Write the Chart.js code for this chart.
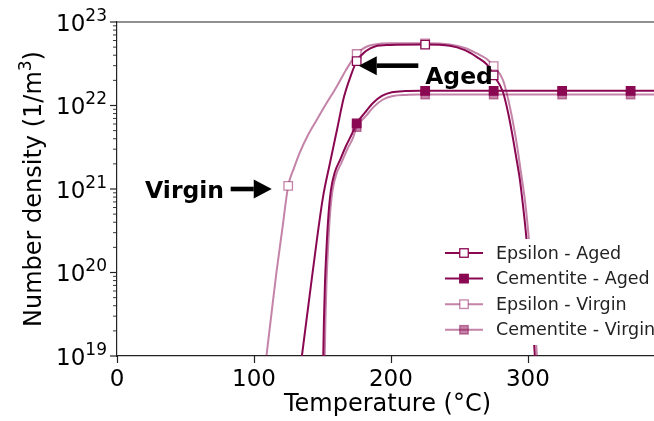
<!DOCTYPE html>
<html>
<head>
<meta charset="utf-8">
<script src="https://cdn.jsdelivr.net/npm/chart.js@4.4.1/dist/chart.umd.min.js"></script>
<style>
  html, body { margin: 0; padding: 0; background: #fff; overflow: hidden; }
  #wrap { width: 680px; height: 421px; }
</style>
</head>
<body>
<div id="wrap"><canvas id="chart"></canvas></div>
<script>
// temperature (°C) and number density (1/m^3) per precipitate / condition
const epsAgedT = [135, 142.3, 150.4, 155.5, 160.6, 165.7, 170.8, 175, 181.8, 188.3, 199.3, 225,
  243, 254, 262.8, 270, 275, 281.8, 285.4, 288.3, 291.2, 294.2, 296.4, 298.5, 301.5, 305.1];
const epsAgedN = [1e19, 8.6e19, 8.0e20, 2.05e21, 5.1e21, 1.26e22, 2.3e22, 3.4e22, 4.5e22, 5.1e22, 5.3e22, 5.37e22,
  5.2e22, 4.6e22, 3.8e22, 3.1e22, 2.3e22, 1.45e22, 8.4e21, 4.8e21, 2.55e21, 1.28e21, 6.4e20, 3.05e20, 8.1e19, 1e19];

const cemAgedT = [150.6, 151.1, 151.8, 152.9, 154.4, 156.2, 159.1, 162.8, 167.2, 171.5, 175, 181, 186.9,
  193.4, 200.7, 210.2, 221.2, 225, 275, 325, 375, 395];
const cemAgedN = [1e19, 2.7e19, 7.1e19, 1.86e20, 4.9e20, 9.7e20, 1.6e21, 2.22e21, 3.27e21, 4.56e21, 6.1e21, 8.2e21, 1.07e22,
  1.3e22, 1.44e22, 1.49e22, 1.5e22, 1.5e22, 1.5e22, 1.5e22, 1.5e22, 1.5e22];

const epsVirginT = [109.1, 112.4, 116.4, 120.8, 125, 129.2, 133.6, 139.4, 145.8, 152.6, 160.4, 167.2, 175, 181, 188.3,
  199.3, 225, 243, 254, 262.8, 270, 275, 281.8, 285.4, 289.1, 292, 294.9, 297.8, 300, 302.9, 306.6];
const epsVirginN = [1e19, 2.85e19, 1.0e20, 3.4e20, 1.09e21, 1.78e21, 2.77e21, 4.4e21, 6.7e21, 1.04e22, 1.68e22, 2.66e22, 4.14e22, 4.95e22, 5.38e22,
  5.56e22, 5.56e22, 5.38e22, 4.89e22, 4.2e22, 3.6e22, 2.97e22, 2.02e22, 1.23e22, 6.3e21, 3.37e21, 1.6e21, 7.4e20, 3.4e20, 9.3e19, 1e19];

const cemVirginT = [151.7, 152.2, 152.9, 154, 155.5, 157.3, 160.2, 163.9, 168.2, 172.3, 175, 181.8, 187.6,
  194.2, 201.5, 210.9, 221.2, 225, 275, 325, 375, 395];
const cemVirginN = [1e19, 2.7e19, 7.1e19, 1.86e20, 4.9e20, 9.5e20, 1.51e21, 2.07e21, 3.0e21, 4.1e21, 5.5e21, 7.5e21, 9.7e21,
  1.18e22, 1.3e22, 1.34e22, 1.35e22, 1.35e22, 1.35e22, 1.35e22, 1.35e22, 1.35e22];

const markerTemps = [125, 175, 225, 275, 325, 375];
const seriesNames = ['Epsilon - Aged', 'Cementite - Aged', 'Epsilon - Virgin', 'Cementite - Virgin'];
const xTicks = [0, 100, 200, 300];
const yTicks = [1e19, 1e20, 1e21, 1e22, 1e23];

const AGED = 'rgb(138, 8, 82)';
const VIRGIN = 'rgba(138, 8, 82, 0.5)';
const FONT = '"DejaVu Sans", sans-serif';

const pts = (ts, ns) => ts.map((t, i) => ({ x: t, y: ns[i] }));

function series(label, ts, ns, color, open) {
  return {
    label,
    data: pts(ts, ns),
    borderColor: color,
    borderWidth: 2,
    cubicInterpolationMode: 'monotone',
    pointStyle: 'rect',
    pointRadius: c => markerTemps.includes(c.raw.x) ? 6 : 0,
    pointHoverRadius: 0,
    pointBorderWidth: 1.3,
    pointBorderColor: color,
    pointBackgroundColor: open ? '#fff' : color
  };
}

const datasets = [
  series(seriesNames[0], epsAgedT, epsAgedN, AGED, true),
  series(seriesNames[1], cemAgedT, cemAgedN, AGED, false),
  series(seriesNames[2], epsVirginT, epsVirginN, VIRGIN, true),
  series(seriesNames[3], cemVirginT, cemVirginN, VIRGIN, false)
];

function arrow(ctx, x1, x2, y) {
  // horizontal arrow from x1 to tip at x2
  const dir = Math.sign(x2 - x1), head = 18, half = 9.5;
  ctx.fillStyle = '#000';
  ctx.fillRect(Math.min(x1, x2 - dir * head), y - 2.3, Math.abs(x2 - dir * head - x1), 4.6);
  ctx.beginPath();
  ctx.moveTo(x2, y);
  ctx.lineTo(x2 - dir * head, y - half);
  ctx.lineTo(x2 - dir * head, y + half);
  ctx.closePath();
  ctx.fill();
}

const decor = {
  id: 'decor',
  afterDatasetsDraw(chart) {
    const { ctx, chartArea: a, scales: { x, y } } = chart;
    ctx.save();
    ctx.strokeStyle = '#222';
    ctx.lineWidth = 1.2;
    // top spine
    ctx.beginPath();
    ctx.moveTo(a.left, a.top);
    ctx.lineTo(a.right, a.top);
    ctx.stroke();
    // x tick marks
    xTicks.forEach(v => {
      const px = Math.round(x.getPixelForValue(v)) + 0.5;
      ctx.beginPath();
      ctx.moveTo(px, a.bottom);
      ctx.lineTo(px, a.bottom + 7);
      ctx.stroke();
    });
    // y ticks, major and minor
    for (let e = 19; e <= 23; e++) {
      const py = y.getPixelForValue(Math.pow(10, e));
      ctx.lineWidth = 1.2;
      ctx.beginPath();
      ctx.moveTo(a.left, py);
      ctx.lineTo(a.left - 7, py);
      ctx.stroke();
      if (e === 23) break;
      ctx.lineWidth = 0.9;
      for (let k = 2; k <= 9; k++) {
        const pm = y.getPixelForValue(k * Math.pow(10, e));
        ctx.beginPath();
        ctx.moveTo(a.left, pm);
        ctx.lineTo(a.left - 4, pm);
        ctx.stroke();
      }
    }
    // y tick labels 10^n
    ctx.fillStyle = '#000';
    ctx.textBaseline = 'alphabetic';
    yTicks.forEach(v => {
      const py = y.getPixelForValue(v);
      const ex = String(Math.round(Math.log10(v)));
      ctx.font = '17px ' + FONT;
      const ew = ctx.measureText(ex).width;
      ctx.font = '23px ' + FONT;
      const bw = ctx.measureText('10').width;
      const right = a.left - 10;
      ctx.textAlign = 'left';
      ctx.fillText('10', right - ew - bw, py + 8.5);
      ctx.font = '17px ' + FONT;
      ctx.fillText(ex, right - ew, py - 1.5);
    });
    // axis titles
    ctx.textAlign = 'center';
    ctx.textBaseline = 'middle';
    ctx.font = '24px ' + FONT;
    ctx.fillText('Temperature (°C)', (a.left + a.right) / 2, 405);
    // y title with a raised exponent
    ctx.save();
    ctx.translate(32, (a.top + a.bottom) / 2);
    ctx.rotate(-Math.PI / 2);
    ctx.textAlign = 'left';
    ctx.textBaseline = 'alphabetic';
    const p1 = 'Number density (1/m', p2 = '3', p3 = ')';
    ctx.font = '24px ' + FONT;
    const w1 = ctx.measureText(p1).width, w3 = ctx.measureText(p3).width;
    ctx.font = '17px ' + FONT;
    const w2 = ctx.measureText(p2).width;
    let cx = -(w1 + w2 + w3) / 2;
    ctx.font = '24px ' + FONT;
    ctx.fillText(p1, cx, 8.5);
    cx += w1;
    ctx.font = '17px ' + FONT;
    ctx.fillText(p2, cx, -1.5);
    cx += w2;
    ctx.font = '24px ' + FONT;
    ctx.fillText(p3, cx, 8.5);
    ctx.restore();

    // annotations
    ctx.font = 'bold 23.5px ' + FONT;
    ctx.textAlign = 'left';
    ctx.textBaseline = 'alphabetic';
    const vy = y.getPixelForValue(1e21);
    ctx.fillText('Virgin', x.getPixelForValue(20.5), vy + 8.5);
    arrow(ctx, x.getPixelForValue(83), x.getPixelForValue(113), vy);
    const ay = y.getPixelForValue(3e22);
    ctx.fillText('Aged', x.getPixelForValue(225), y.getPixelForValue(2.3e22) + 8.5);
    arrow(ctx, x.getPixelForValue(220), x.getPixelForValue(176.5), ay);

    // legend box
    ctx.fillStyle = '#fff';
    ctx.fillRect(437, 239, 260, 106);
    ctx.font = '17.5px ' + FONT;
    ctx.textBaseline = 'middle';
    chart.data.datasets.forEach((ds, i) => {
      const ly = 253 + i * 25.6;
      ctx.strokeStyle = ds.borderColor;
      ctx.lineWidth = 2;
      ctx.beginPath();
      ctx.moveTo(445, ly);
      ctx.lineTo(483, ly);
      ctx.stroke();
      ctx.fillStyle = ds.pointBackgroundColor;
      ctx.fillRect(459.75, ly - 4.25, 8.5, 8.5);
      ctx.lineWidth = 1.3;
      ctx.strokeRect(459.75, ly - 4.25, 8.5, 8.5);
      ctx.fillStyle = '#222';
      ctx.fillText(ds.label, 496, ly + 1);
    });
    ctx.restore();
  }
};

new Chart(document.getElementById('chart'), {
  type: 'line',
  data: { datasets },
  plugins: [decor],
  options: {
    responsive: true,
    maintainAspectRatio: false,
    animation: false,
    layout: { padding: { top: 22, right: 22, left: 0, bottom: 0 } },
    plugins: { legend: { display: false }, tooltip: { enabled: false } },
    scales: {
      x: {
        type: 'linear',
        min: 0,
        max: 395,
        afterBuildTicks: s => { s.ticks = xTicks.map(v => ({ value: v })); },
        afterFit: s => { s.height = 65; },
        grid: { display: false, drawTicks: true, tickLength: 7 },
        border: { display: true, color: '#222', width: 1.2 },
        ticks: { color: '#000', padding: 3, font: { family: FONT, size: 23 }, maxRotation: 0 }
      },
      y: {
        type: 'logarithmic',
        min: 1e19,
        max: 1e23,
        afterBuildTicks: s => { s.ticks = yTicks.map(v => ({ value: v })); },
        afterFit: s => { s.width = 117; },
        grid: { display: false },
        border: { display: true, color: '#222', width: 1.2 },
        ticks: { display: false }
      }
    }
  }
});
</script>
</body>
</html>
